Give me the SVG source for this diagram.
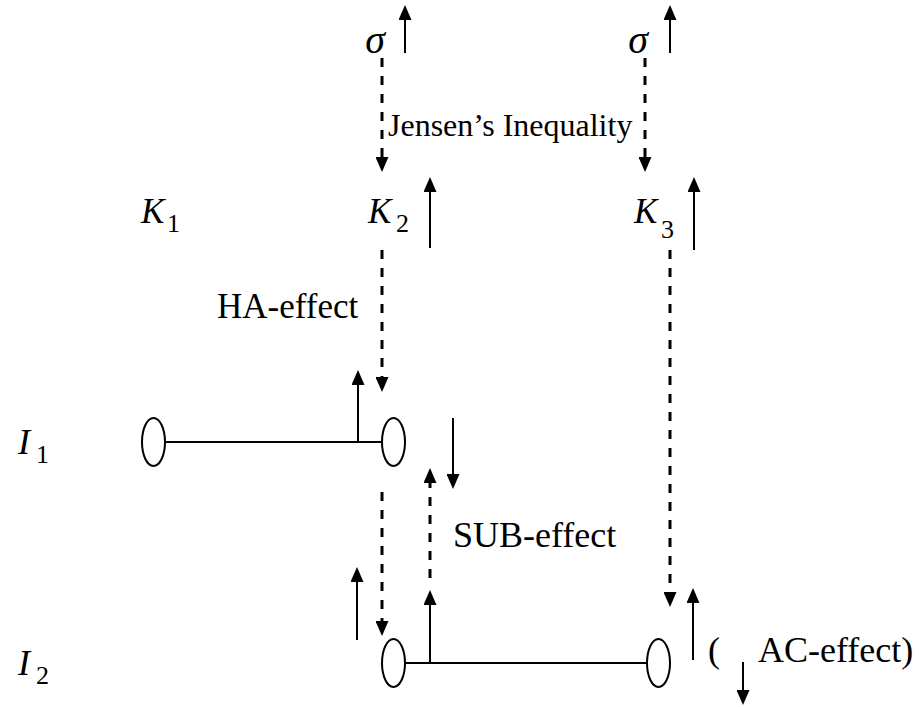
<svg xmlns="http://www.w3.org/2000/svg" width="919" height="707" viewBox="0 0 919 707">
<style>
.t{font-family:"Liberation Serif","Times New Roman",serif;fill:#000}
.i{font-style:italic}
.s{stroke:#000;stroke-width:2;fill:none}
.d{stroke:#000;stroke-width:3;fill:none;stroke-dasharray:9 9}
.e{stroke:#000;stroke-width:2;fill:#fff}
</style>
<defs>
<marker id="ah" markerUnits="userSpaceOnUse" markerWidth="15" markerHeight="13" viewBox="0 0 15 13" refX="5" refY="6.5" orient="auto">
<path d="M0,0 L15,6.5 L0,13 z" fill="#000"/>
</marker>
</defs>
<g id="connectors">
<line class="s" x1="405" y1="53" x2="405" y2="15" marker-end="url(#ah)"/>
<line class="s" x1="670" y1="53" x2="670" y2="15" marker-end="url(#ah)"/>
<line class="d" x1="382" y1="58" x2="382" y2="162" marker-end="url(#ah)"/>
<line class="d" x1="645" y1="58" x2="645" y2="162" marker-end="url(#ah)"/>
<line class="s" x1="430" y1="248" x2="430" y2="187" marker-end="url(#ah)"/>
<line class="s" x1="694" y1="250" x2="694" y2="187" marker-end="url(#ah)"/>
<line class="d" x1="382" y1="250" x2="382" y2="382" marker-end="url(#ah)"/>
<line class="d" x1="670" y1="250" x2="670" y2="597" marker-end="url(#ah)"/>
<line class="s" x1="165" y1="442" x2="382" y2="442"/>
<line class="s" x1="358" y1="442" x2="358" y2="380" marker-end="url(#ah)"/>
<line class="s" x1="453" y1="418" x2="453" y2="479" marker-end="url(#ah)"/>
<line class="d" x1="382" y1="492" x2="382" y2="626" marker-end="url(#ah)"/>
<line class="d" x1="430" y1="578" x2="430" y2="478" marker-end="url(#ah)"/>
<line class="s" x1="357" y1="640" x2="357" y2="577" marker-end="url(#ah)"/>
<line class="s" x1="405" y1="663" x2="647" y2="663"/>
<line class="s" x1="430" y1="663" x2="430" y2="600" marker-end="url(#ah)"/>
<line class="s" x1="693" y1="660" x2="693" y2="598" marker-end="url(#ah)"/>
<line class="s" x1="743" y1="662" x2="743" y2="695" marker-end="url(#ah)"/>
</g>
<g id="sigma1"><text class="t i" x="385" y="53" font-size="40" text-anchor="end">σ</text></g>
<g id="sigma2"><text class="t i" x="648" y="53" font-size="40" text-anchor="end">σ</text></g>
<g id="jensen"><text class="t" x="388" y="136" font-size="32">Jensen’s Inequality</text></g>
<g id="K1"><text class="t i" x="141" y="223" font-size="35">K</text><text class="t" x="167" y="232" font-size="26">1</text></g>
<g id="K2"><text class="t i" x="368" y="223" font-size="35">K</text><text class="t" x="396" y="232" font-size="26">2</text></g>
<g id="K3"><text class="t i" x="634" y="223" font-size="35">K</text><text class="t" x="661" y="238" font-size="26">3</text></g>
<g id="ha"><text class="t" x="217" y="318" font-size="35">HA-effect</text></g>
<g id="I1"><text class="t i" x="18" y="454" font-size="36">I</text><text class="t" x="36" y="463" font-size="26">1</text></g>
<g id="I1a"><ellipse class="e" cx="153.5" cy="442" rx="11.5" ry="24"/></g>
<g id="I1b"><ellipse class="e" cx="393.5" cy="442" rx="11.5" ry="24"/></g>
<g id="sub"><text class="t" x="453" y="547" font-size="36">SUB-effect</text></g>
<g id="I2"><text class="t i" x="18" y="675" font-size="36">I</text><text class="t" x="36" y="684" font-size="26">2</text></g>
<g id="I2a"><ellipse class="e" cx="393.5" cy="663" rx="11.5" ry="24"/></g>
<g id="I2b"><ellipse class="e" cx="658.5" cy="663" rx="11.5" ry="24"/></g>
<g id="ac"><text class="t" x="708" y="662" font-size="36">(</text><text class="t" x="758" y="662" font-size="36">AC-effect)</text></g>
</svg>
